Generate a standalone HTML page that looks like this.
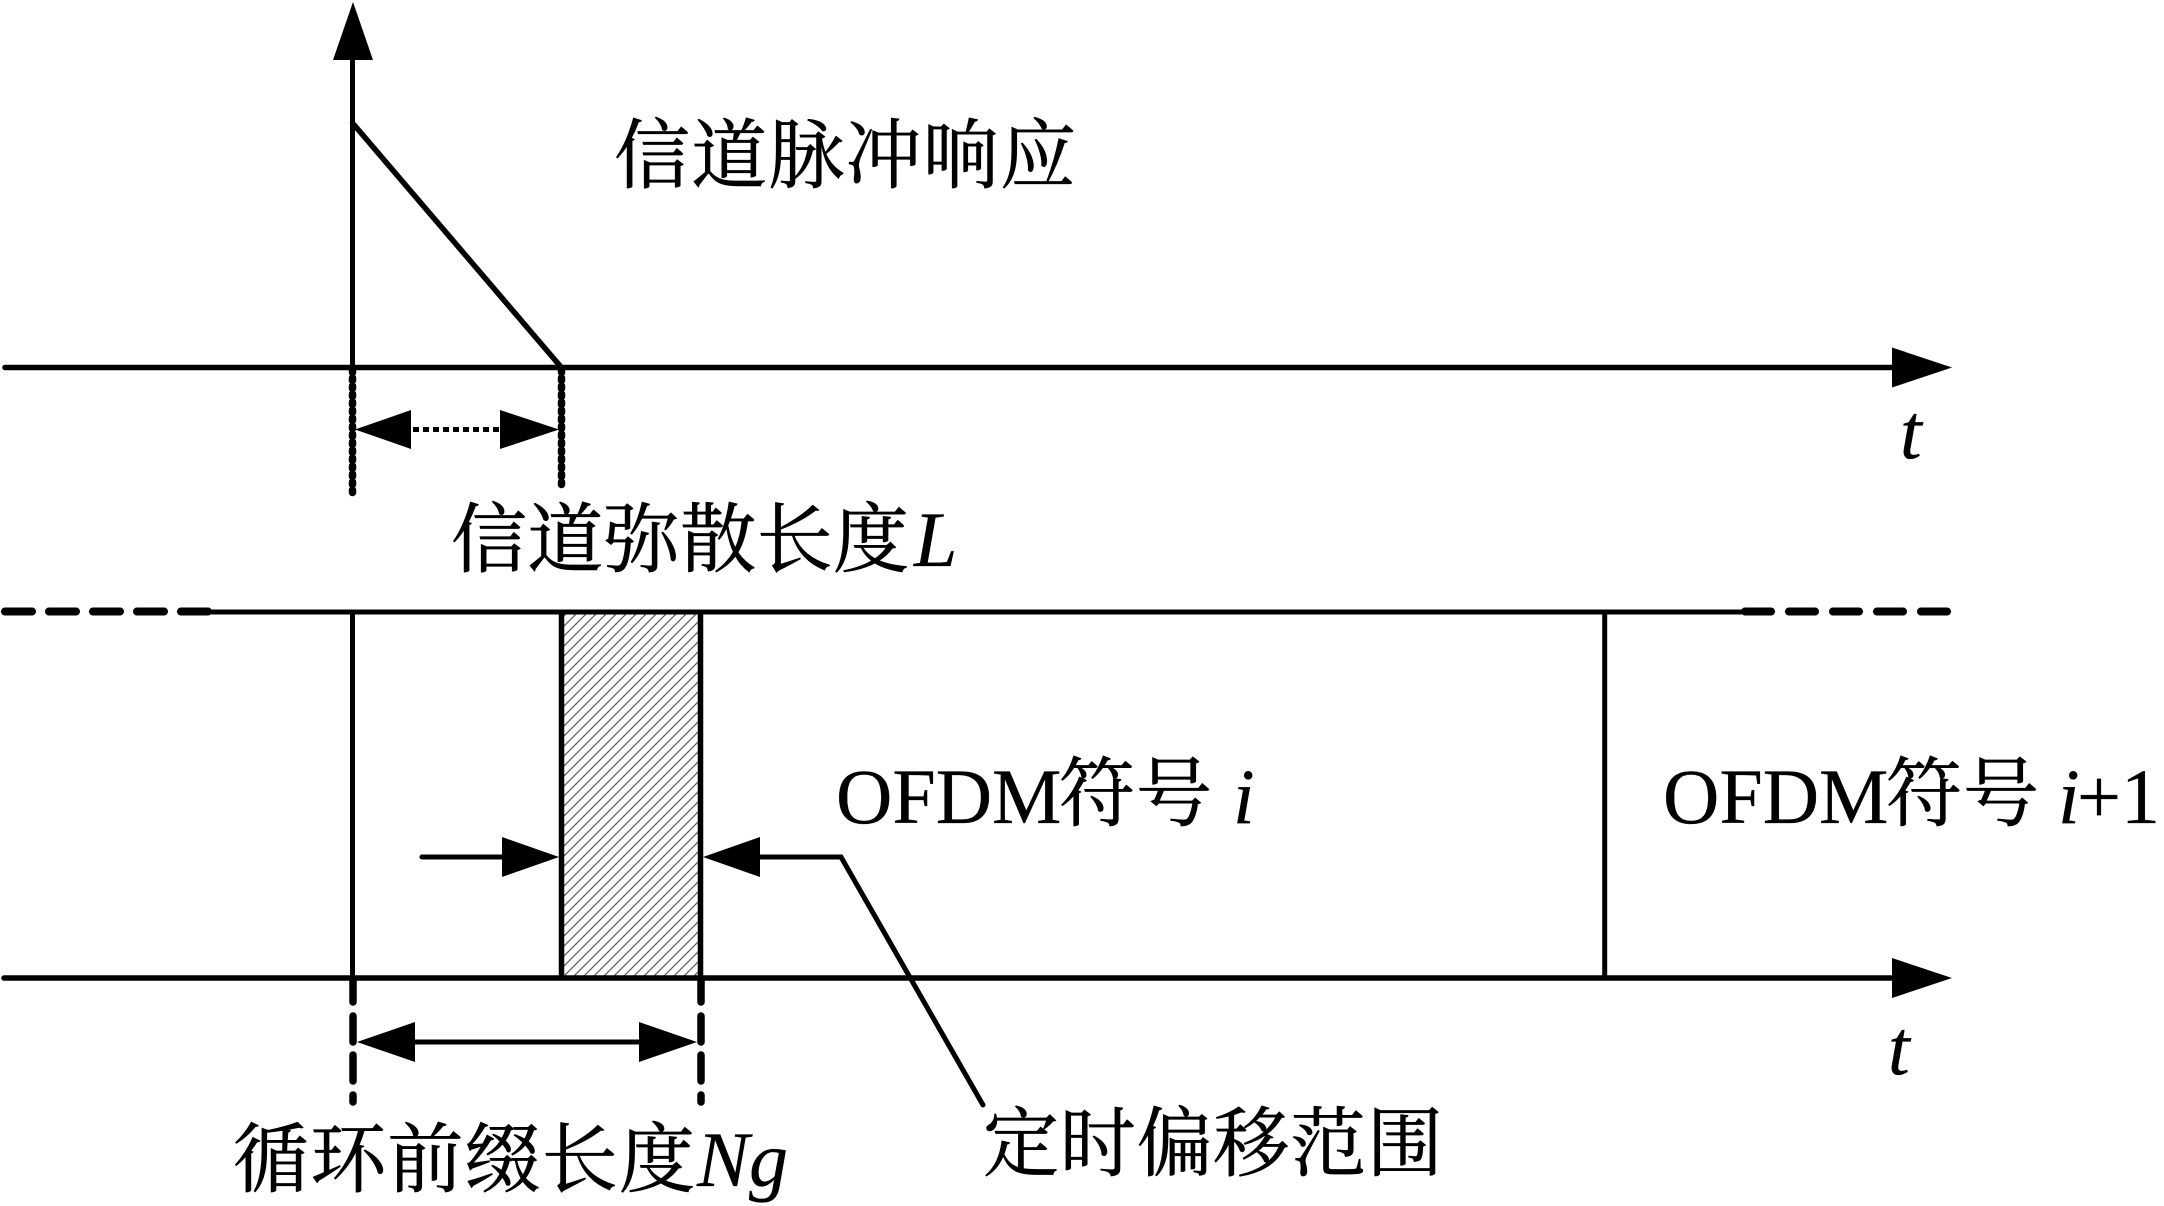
<!DOCTYPE html>
<html lang="zh"><head><meta charset="utf-8"><title>OFDM</title>
<style>html,body{margin:0;padding:0;background:#fff}svg{display:block}
text{stroke:#000;stroke-width:.7}
.c{font-family:"Liberation Serif","Noto Serif CJK SC",serif;font-size:76px;fill:#000}
.i{font-family:"Liberation Serif",serif;font-style:italic;font-size:78px;fill:#000;stroke-width:.3}
.r{font-family:"Liberation Serif",serif;font-size:78px;fill:#000;stroke-width:.3}</style></head><body>
<svg xmlns="http://www.w3.org/2000/svg" width="2164" height="1206" viewBox="0 0 2164 1206">
<defs><pattern id="h" width="10" height="10" patternUnits="userSpaceOnUse"><path d="M-2 12L12 -2M-2 2L2 -2M8 12L12 8" stroke="#5a5a5a" stroke-width="1.2"/></pattern></defs>
<rect width="2164" height="1206" fill="#fff"/>
<rect x="562" y="612" width="139" height="366" fill="url(#h)"/>
<g stroke="#000" fill="none" stroke-linecap="round">
<line x1="352.5" y1="60" x2="352.5" y2="367" stroke-width="5"/>
<line x1="352.5" y1="123" x2="561" y2="367" stroke-width="5.5"/>
<line x1="5" y1="367.5" x2="1895" y2="367.5" stroke-width="5.5"/>
<line x1="352.5" y1="370" x2="352.5" y2="496" stroke-width="7.5" stroke-dasharray="2.5 5.5"/>
<line x1="561.5" y1="370" x2="561.5" y2="488" stroke-width="7.5" stroke-dasharray="2.5 5.5"/>
<line x1="413" y1="429.5" x2="499" y2="429.5" stroke-width="5" stroke-linecap="butt" stroke-dasharray="6 4"/>
<line x1="212" y1="612" x2="1741" y2="612" stroke-width="5"/>
<line x1="4" y1="978" x2="1895" y2="978" stroke-width="5.5"/>
<path d="M5 611.5H210" stroke-width="8" stroke-dasharray="27 17"/>
<path d="M1745 611.5H1948" stroke-width="8" stroke-dasharray="26 18"/>
<line x1="352.5" y1="612" x2="352.5" y2="978" stroke-width="5"/>
<line x1="561.5" y1="610" x2="561.5" y2="978" stroke-width="5.5" stroke-linecap="butt"/>
<line x1="700.5" y1="610" x2="700.5" y2="978" stroke-width="5.5" stroke-linecap="butt"/>
<line x1="1604.7" y1="612" x2="1604.7" y2="978" stroke-width="5"/>
<line x1="422" y1="857" x2="505" y2="857" stroke-width="5"/>
<path d="M755 857H841L983 1105" stroke-width="5"/>
<line x1="415" y1="1042" x2="640" y2="1042" stroke-width="5"/>
<g stroke-width="7.5">
<path d="M353 981V1002M353 1016V1042M353 1055V1081M353 1095V1102"/>
<path d="M701 981V1002M701 1016V1042M701 1055V1081M701 1095V1102"/>
</g>
</g>
<g fill="#000">
<path d="M353 2L373 60H333Z"/>
<path d="M1952 367.5L1892 347.5V387.5Z"/>
<path d="M1952 978L1892 958V998Z"/>
<path d="M355 429.5L411 410V449Z"/>
<path d="M559 429.5L500 410V449Z"/>
<path d="M559 857L502 837V877Z"/>
<path d="M703 857L760 837V877Z"/>
<path d="M357 1042L415 1022V1062Z"/>
<path d="M697 1042L639 1022V1062Z"/>
</g>
<text class="c" x="614" y="182" textLength="462" lengthAdjust="spacing">信道脉冲响应</text>
<text class="c" x="451" y="566" textLength="458" lengthAdjust="spacing">信道弥散长度</text>
<text class="i" x="914" y="566">L</text>
<text class="i" x="1900" y="458">t</text>
<text class="i" x="1888" y="1074">t</text>
<text class="r" x="836" y="823">OFDM</text>
<text class="c" x="1059" y="820" textLength="153" lengthAdjust="spacing">符号</text>
<text class="i" x="1233" y="823">i</text>
<text class="r" x="1663" y="823">OFDM</text>
<text class="c" x="1886" y="820" textLength="153" lengthAdjust="spacing">符号</text>
<text class="i" x="2058" y="823">i</text>
<text class="r" x="2077" y="823">+1</text>
<text class="c" x="233" y="1186" textLength="462" lengthAdjust="spacing">循环前缀长度</text>
<text class="i" x="697" y="1186">Ng</text>
<text class="c" x="983" y="1170" textLength="460" lengthAdjust="spacing">定时偏移范围</text>
</svg></body></html>
